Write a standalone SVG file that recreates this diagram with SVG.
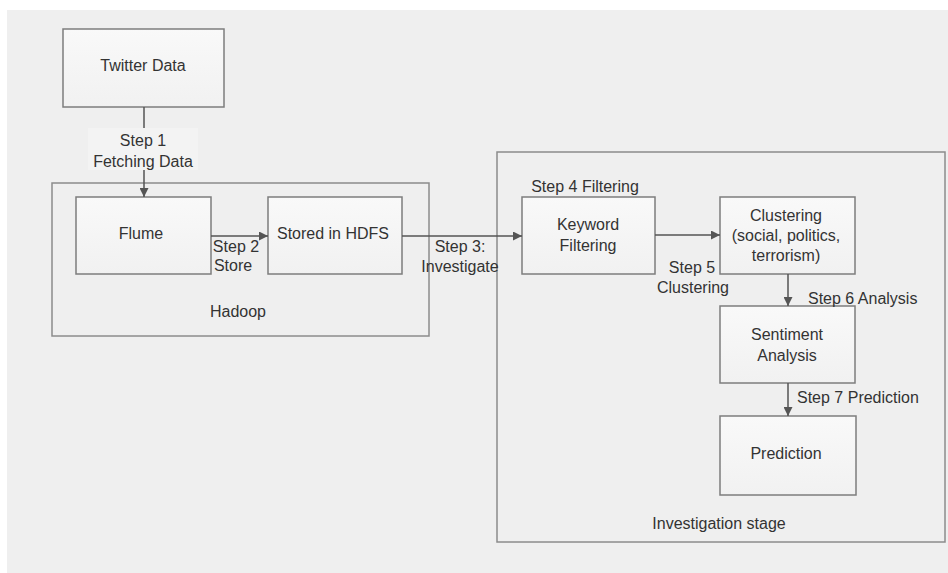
<svg xmlns="http://www.w3.org/2000/svg" width="948" height="573" viewBox="0 0 948 573">
<defs>
<marker id="arr" viewBox="0 0 10 10" refX="10" refY="5" markerWidth="9" markerHeight="9" markerUnits="userSpaceOnUse" orient="auto">
<path d="M0,0 L10,5 L0,10 z" fill="#555"/>
</marker>
<linearGradient id="bx" x1="0" y1="0" x2="0" y2="1">
<stop offset="0" stop-color="#f9f9f9"/>
<stop offset="1" stop-color="#f1f1f1"/>
</linearGradient>
</defs>
<style>
text{font-family:"Liberation Sans",Arial,sans-serif;font-size:16px;fill:#333;text-anchor:middle}
.box{fill:url(#bx);stroke:#7d7d7d;stroke-width:1.5}
.cont{fill:none;stroke:#8c8c8c;stroke-width:1.5}
.con{stroke:#555;stroke-width:1.5;fill:none}
.st{text-anchor:start}
</style>
<rect x="0" y="0" width="948" height="573" fill="#ffffff"/>
<rect x="7" y="10" width="941" height="563" fill="#efefef"/>

<g id="hadoop">
<rect class="cont" x="52" y="183" width="377" height="153"/>
<text x="238" y="317">Hadoop</text>
</g>
<g id="investigation-stage">
<rect class="cont" x="497" y="152" width="448" height="390"/>
<text x="719" y="529">Investigation stage</text>
</g>

<g id="twitter-data">
<rect class="box" x="63" y="29" width="161" height="78"/>
<text x="143" y="71">Twitter Data</text>
</g>
<g id="flume">
<rect class="box" x="76" y="197" width="135" height="77"/>
<text x="141" y="239">Flume</text>
</g>
<g id="hdfs">
<rect class="box" x="268" y="197" width="134" height="77"/>
<text x="333" y="239">Stored in HDFS</text>
</g>
<g id="keyword-filtering">
<rect class="box" x="522" y="197" width="133" height="77"/>
<text x="588" y="230">Keyword</text>
<text x="588" y="251">Filtering</text>
</g>
<g id="clustering">
<rect class="box" x="720" y="197" width="135" height="77"/>
<text x="786" y="221">Clustering</text>
<text x="786" y="241">(social, politics,</text>
<text x="786" y="261">terrorism)</text>
</g>
<g id="sentiment-analysis">
<rect class="box" x="720" y="306" width="135" height="77"/>
<text x="787" y="340">Sentiment</text>
<text x="787" y="361">Analysis</text>
</g>
<g id="prediction">
<rect class="box" x="720" y="416" width="136" height="79"/>
<text x="786" y="459">Prediction</text>
</g>

<g id="connectors">
<line class="con" x1="144" y1="107" x2="144" y2="197" marker-end="url(#arr)"/>
<line class="con" x1="211" y1="236" x2="268" y2="236" marker-end="url(#arr)"/>
<line class="con" x1="402" y1="236" x2="522" y2="236" marker-end="url(#arr)"/>
<line class="con" x1="655" y1="235" x2="720" y2="235" marker-end="url(#arr)"/>
<line class="con" x1="788" y1="274" x2="788" y2="306" marker-end="url(#arr)"/>
<line class="con" x1="788" y1="383" x2="788" y2="416" marker-end="url(#arr)"/>
</g>

<g id="labels">
<rect x="88" y="128" width="110" height="42" fill="#f3f3f3"/>
<text x="143" y="146">Step 1</text>
<text x="143" y="167">Fetching Data</text>
<text x="236" y="252">Step 2</text>
<text x="233" y="271">Store</text>
<text x="460" y="252">Step 3:</text>
<text x="460" y="272">Investigate</text>
<text x="585" y="192">Step 4 Filtering</text>
<text x="692" y="273">Step 5</text>
<text x="693" y="293">Clustering</text>
<text class="st" x="808" y="304">Step 6 Analysis</text>
<text class="st" x="797" y="403">Step 7 Prediction</text>
</g>
</svg>
